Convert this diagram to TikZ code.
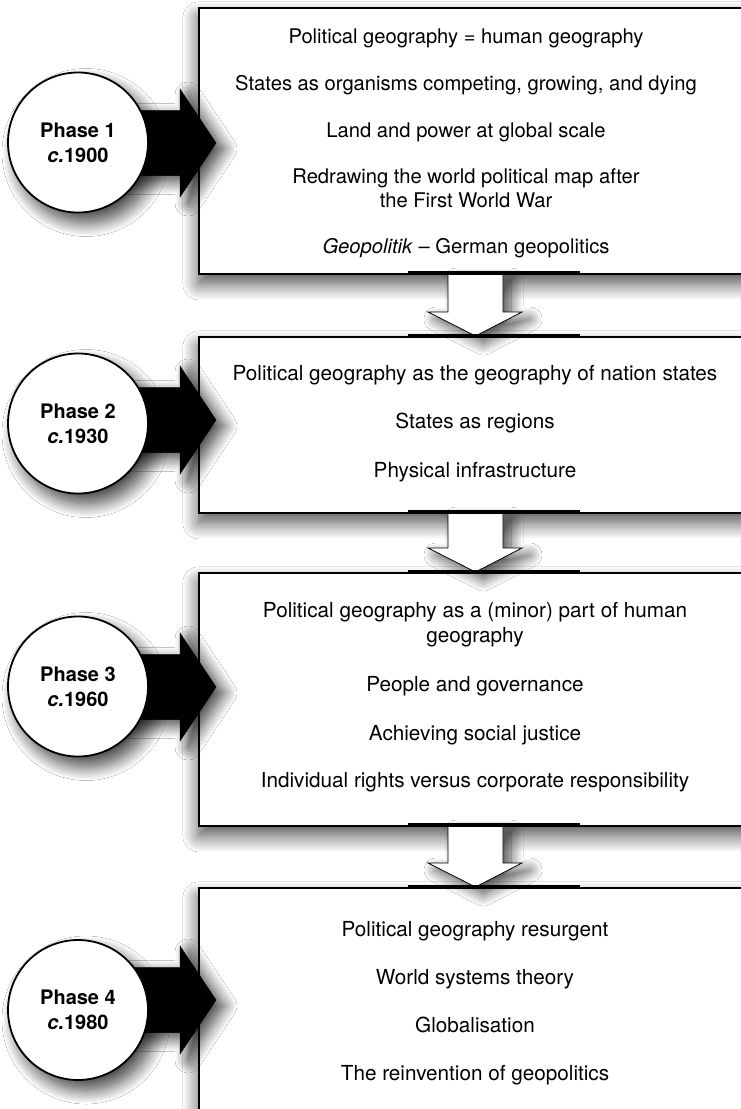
\documentclass[tikz,border=0pt]{standalone}
\usepackage{fontspec}
\setmainfont{TeX Gyre Heros}
\usetikzlibrary{shadows.blur}
\tikzset{
  boxshape/.style={rectangle, draw=black, line width=1.8pt, fill=white, inner sep=0pt, anchor=north west,
    blur shadow={shadow xshift=0pt, shadow yshift=-10pt, shadow blur radius=16pt, shadow opacity=70, shadow blur steps=16}},
  phase/.style={circle, draw=black, line width=1.8pt, fill=white, minimum size=140pt, inner sep=0pt,
    align=center, font=\bfseries\fontsize{20}{25}\selectfont,
    blur shadow={shadow xshift=8pt, shadow yshift=-10pt, shadow blur radius=14pt, shadow opacity=75, shadow blur steps=16}},
  txtA/.style={anchor=base, inner sep=0pt, font=\fontsize{20.2}{24}\selectfont},
  txtB/.style={anchor=base, inner sep=0pt, font=\fontsize{20.7}{25}\selectfont},
  blackarrow/.style={fill=black, draw=black, line width=0.5pt,
    blur shadow={shadow xshift=8pt, shadow yshift=-6pt, shadow blur radius=13pt, shadow opacity=75, shadow blur steps=14}},
  dnarrowstyle/.style={fill=white, draw=black, line width=0.8pt,
    blur shadow={shadow xshift=8pt, shadow yshift=-7pt, shadow blur radius=12pt, shadow opacity=70, shadow blur steps=14}},
  thickedge/.style={line width=3.2pt, black},
}
\newcommand\phasearrow[1]{%
  \path[blackarrow] (120,{#1-32.5}) -- (180,{#1-32.5}) -- (180,{#1-54}) -- (216,{#1}) -- (180,{#1+54}) -- (180,{#1+32.5}) -- (120,{#1+32.5}) -- cycle;}
\newcommand\dnarrow[2]{%
  \path[dnarrowstyle] (448,{#1}) -- (503,{#1}) -- (503,{#2-24}) -- (522,{#2-24}) -- (475.5,{#2}) -- (428,{#2-24}) -- (448,{#2-24}) -- cycle;}
\begin{document}
\begin{tikzpicture}[x=1pt,y=-1pt]
\useasboundingbox (0,0) rectangle (741,1109);
\fill[white] (0,0) rectangle (741,1109);
\clip (0,0) rectangle (741,1109);

% boxes
\node[boxshape, minimum width=560pt, minimum height=266pt] (b1) at (198,7) {};
\node[boxshape, minimum width=560pt, minimum height=176pt] (b2) at (198,336) {};
\node[boxshape, minimum width=560pt, minimum height=253pt] (b3) at (198,572) {};
\node[boxshape, minimum width=560pt, minimum height=260pt] (b4) at (198,887) {};

% box texts
\node[txtA] (t11) at (466,43) {Political geography = human geography};
\node[txtA] (t12) at (466,90) {States as organisms competing, growing, and dying};
\node[txtA] (t13) at (466,137) {Land and power at global scale};
\node[txtA] (t14) at (466,183) {Redrawing the world political map after};
\node[txtA] (t15) at (466,207) {the First World War};
\node[txtA] (t16) at (466,253) {\textit{Geopolitik} -- German geopolitics};

\node[txtB] (t21) at (475,380) {Political geography as the geography of nation states};
\node[txtB] (t22) at (475,428) {States as regions};
\node[txtB] (t23) at (475,477) {Physical infrastructure};

\node[txtB] (t31) at (475,617) {Political geography as a (minor) part of human};
\node[txtB] (t32) at (475,642) {geography};
\node[txtB] (t33) at (475,691) {People and governance};
\node[txtB] (t34) at (475,740) {Achieving social justice};
\node[txtB] (t35) at (475,787) {Individual rights versus corporate responsibility};

\node[txtB] (t41) at (475,936) {Political geography resurgent};
\node[txtB] (t42) at (475,984) {World systems theory};
\node[txtB] (t43) at (475,1032) {Globalisation};
\node[txtB] (t44) at (475,1080) {The reinvention of geopolitics};

% down arrows between boxes
\dnarrow{273}{336}
\dnarrow{512}{572}
\dnarrow{825}{887}

% thicker edge segments around the down arrows
\draw[thickedge] (408,273) -- (580,273);
\draw[thickedge] (408,336) -- (580,336);
\draw[thickedge] (408,512) -- (580,512);
\draw[thickedge] (408,572) -- (580,572);
\draw[thickedge] (408,825) -- (580,825);
\draw[thickedge] (408,887) -- (580,887);

% black arrows from phases to boxes
\phasearrow{143}
\phasearrow{420}
\phasearrow{687}
\phasearrow{1000}

% phase circles
\node[phase] (p1) at (78,142.5) {Phase 1\\\textit{c.}1900};
\node[phase] (p2) at (78,423.5) {Phase 2\\\textit{c.}1930};
\node[phase] (p3) at (78,686.5) {Phase 3\\\textit{c.}1960};
\node[phase] (p4) at (78,1010) {Phase 4\\\textit{c.}1980};
\end{tikzpicture}
\end{document}
